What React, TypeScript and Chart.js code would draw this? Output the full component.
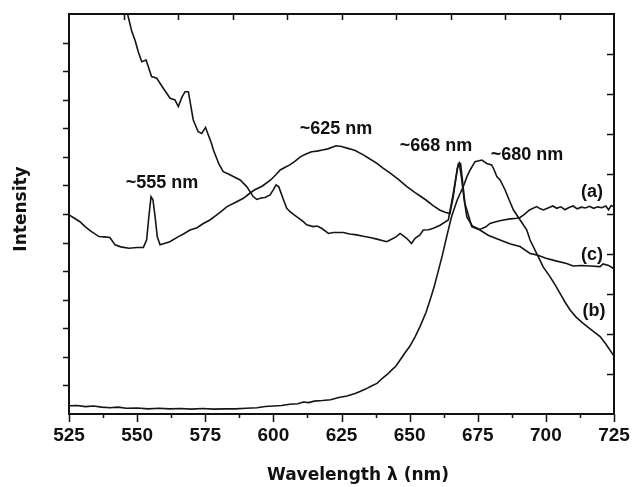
import React, { useEffect, useRef } from "react";
import { Chart, registerables } from "chart.js";

Chart.register(...registerables);

// ---- data (wavelength in nm, intensity in arbitrary units) ----
const aWavelength = [525, 527, 529, 531, 533, 536, 538, 540, 541.9, 544, 547, 550, 552.3, 553.5, 554.3, 555.1, 555.8, 556.6, 557.4, 558.4, 560, 562, 565, 567, 569.4, 572, 574, 576.7, 579, 581, 583, 586, 589, 591, 593, 596, 599, 601, 602.5, 604, 606, 608, 610, 612, 614, 616, 618, 620, 623, 625, 628, 630, 633, 635, 638, 640, 643, 646, 649, 652, 654, 656, 658.5, 661, 663, 664.8, 666, 667.5, 668.2, 669, 670, 671, 673, 675.8, 678, 679.5, 682, 684.4, 687, 689.3, 690.5, 692, 694, 696.6, 698, 699.1, 701, 702.5, 704, 705.5, 707, 708.5, 710, 711.5, 713, 714.5, 716, 717.5, 719, 720.5, 722, 723, 724, 725];
const aIntensity = [6.97, 6.85, 6.73, 6.55, 6.4, 6.21, 6.2, 6.18, 5.92, 5.85, 5.8, 5.83, 5.83, 6.1, 6.9, 7.61, 7.5, 6.9, 6.2, 5.92, 5.97, 6.03, 6.2, 6.3, 6.44, 6.52, 6.65, 6.79, 6.95, 7.1, 7.26, 7.4, 7.55, 7.7, 7.84, 7.98, 8.19, 8.38, 8.54, 8.62, 8.72, 8.85, 9.01, 9.1, 9.18, 9.2, 9.24, 9.28, 9.39, 9.36, 9.28, 9.22, 9.07, 8.95, 8.77, 8.62, 8.42, 8.2, 7.96, 7.75, 7.62, 7.49, 7.3, 7.14, 7.06, 7.02, 7.6, 8.6, 8.77, 8.3, 7.5, 6.9, 6.58, 6.46, 6.55, 6.67, 6.74, 6.79, 6.83, 6.85, 6.88, 6.98, 7.14, 7.26, 7.18, 7.14, 7.22, 7.28, 7.2, 7.25, 7.15, 7.23, 7.28, 7.18, 7.24, 7.21, 7.27, 7.2, 7.25, 7.22, 7.28, 7.15, 7.3, 7.25];

const bWavelength = [525, 528, 531, 534, 537, 540, 543, 546, 550, 554, 558, 562, 566, 570, 574, 578, 582, 586, 590, 594, 597, 600, 603, 606, 609, 611, 613, 615, 618, 621, 624, 627, 630, 632, 634, 636, 638, 640, 642, 643, 645, 646.5, 648, 650, 652, 653.8, 656, 657.5, 659, 660.5, 662, 663.6, 665.4, 667.5, 669.7, 671, 672.2, 674, 676.5, 678.3, 680.1, 681, 682, 683.2, 685, 686.5, 688.1, 690.5, 693, 694.2, 696.6, 697.2, 699, 701.5, 703.5, 705.2, 707, 708.9, 711, 713.7, 716, 718, 719.9, 722, 724.7, 725];
const bIntensity = [0.29, 0.3, 0.26, 0.28, 0.24, 0.22, 0.24, 0.2, 0.21, 0.18, 0.2, 0.18, 0.19, 0.17, 0.19, 0.17, 0.18, 0.18, 0.2, 0.22, 0.26, 0.28, 0.3, 0.34, 0.36, 0.42, 0.4, 0.45, 0.47, 0.5, 0.58, 0.63, 0.72, 0.8, 0.88, 0.98, 1.07, 1.25, 1.4, 1.5, 1.68, 1.89, 2.1, 2.36, 2.7, 3.06, 3.55, 3.99, 4.45, 5.0, 5.55, 6.21, 6.91, 7.5, 7.96, 8.3, 8.54, 8.83, 8.89, 8.77, 8.72, 8.55, 8.31, 8.19, 7.85, 7.5, 7.14, 6.8, 6.44, 6.09, 5.62, 5.51, 5.15, 4.81, 4.5, 4.22, 3.92, 3.64, 3.4, 3.17, 3.0, 2.85, 2.71, 2.45, 2.07, 2.03];

const cWavelength = [546, 547, 548, 549.2, 550.5, 551.7, 553.3, 555.3, 557.2, 559.6, 562.1, 563.9, 565.1, 566.5, 567.6, 568.8, 570.6, 572.4, 573.7, 575.1, 577.3, 578, 580, 581.6, 583.5, 585.3, 587.8, 590.2, 592.6, 593.9, 595.5, 596.9, 598.8, 600, 601, 602, 603.5, 604.9, 606.1, 608.5, 611, 612.2, 614.7, 616, 617.7, 620.2, 622, 625.7, 628, 630.6, 633, 635.5, 638, 641.6, 643, 645, 646.5, 648.9, 650.7, 652, 653.8, 655, 657, 658.7, 661, 664.2, 666, 667.9, 668.7, 670.3, 672.8, 675.8, 679, 683.2, 687, 690.5, 694.2, 696.6, 700, 704, 707.6, 710, 713, 716.2, 719.9, 721, 723, 724.7, 725];
const cIntensity = [14.2, 13.8, 13.4, 13.09, 12.65, 12.33, 12.39, 11.81, 11.75, 11.4, 11.05, 10.99, 10.76, 11.1, 11.28, 11.28, 10.29, 9.88, 9.82, 10.03, 9.47, 9.24, 8.75, 8.48, 8.4, 8.31, 8.19, 7.96, 7.61, 7.51, 7.56, 7.58, 7.67, 7.85, 8.02, 7.95, 7.55, 7.2, 7.08, 6.91, 6.73, 6.62, 6.56, 6.58, 6.5, 6.32, 6.35, 6.35, 6.3, 6.27, 6.22, 6.18, 6.12, 6.03, 6.1, 6.2, 6.32, 6.15, 5.97, 6.15, 6.27, 6.44, 6.45, 6.5, 6.6, 6.79, 7.72, 8.77, 8.77, 7.37, 6.56, 6.44, 6.25, 6.09, 5.95, 5.86, 5.62, 5.57, 5.45, 5.35, 5.27, 5.18, 5.2, 5.18, 5.16, 5.25, 5.2, 5.1, 5.08];

// ---- axes ----
const xMajorTicks = [525, 550, 575, 600, 625, 650, 675, 700, 725];
const xMinorTicks = [537.5, 562.5, 587.5, 612.5, 637.5, 662.5, 687.5, 712.5];
const xTopTicks = [545, 565, 585, 605, 625, 645, 665, 685, 705];
const yLeftTicks = [1, 2, 3, 4, 5, 6, 7, 8, 9, 10, 11, 12, 13];
const yRightTicks = [1, 2, 3, 4, 5, 6, 7, 8, 9];

const xTitle = "Wavelength λ (nm)";
const yTitle = "Intensity";

// annotation texts with anchor in data coordinates
const noteTexts = ["~555 nm", "~625 nm", "~668 nm", "~680 nm", "(a)", "(c)", "(b)"];
const noteX = [559.1, 623.0, 659.7, 693.1, 716.9, 716.9, 717.7];
const noteY = [8.09, 9.98, 9.38, 9.07, 7.77, 5.57, 3.61];

const toPoints = (xs: number[], ys: number[]) => xs.map((x, i) => ({ x, y: ys[i] }));

const framePlugin = {
  id: "framePlugin",
  afterDraw(chart: any) {
    const ctx = chart.ctx;
    const { left, right, top, bottom } = chart.chartArea;
    const xs = chart.scales.x;
    const ys = chart.scales.y;
    const ys2 = chart.scales.y2;
    ctx.save();
    ctx.strokeStyle = "#111";
    ctx.fillStyle = "#111";
    ctx.lineWidth = 2;
    ctx.strokeRect(left, top, right - left, bottom - top);
    ctx.lineWidth = 1.5;
    ctx.beginPath();
    xMajorTicks.forEach((v) => {
      const px = Math.round(xs.getPixelForValue(v)) + 0.5;
      ctx.moveTo(px, bottom);
      ctx.lineTo(px, bottom + 8);
    });
    xMinorTicks.forEach((v) => {
      const px = Math.round(xs.getPixelForValue(v)) + 0.5;
      ctx.moveTo(px, bottom);
      ctx.lineTo(px, bottom + 4);
    });
    xTopTicks.forEach((v) => {
      const px = Math.round(xs.getPixelForValue(v)) + 0.5;
      ctx.moveTo(px, top);
      ctx.lineTo(px, top + 6);
    });
    yLeftTicks.forEach((v) => {
      const py = Math.round(ys.getPixelForValue(v)) + 0.5;
      ctx.moveTo(left, py);
      ctx.lineTo(left - 6, py);
    });
    yRightTicks.forEach((v) => {
      const py = Math.round(ys2.getPixelForValue(v)) + 0.5;
      ctx.moveTo(right, py);
      ctx.lineTo(right - 7, py);
    });
    ctx.stroke();

    // tick labels
    ctx.font = "bold 19px 'Liberation Sans', Arial, sans-serif";
    ctx.textAlign = "center";
    ctx.textBaseline = "middle";
    xMajorTicks.forEach((v) => {
      ctx.fillText(String(v), xs.getPixelForValue(v), bottom + 22);
    });

    // titles
    ctx.font = "bold 17px 'DejaVu Sans', sans-serif";
    ctx.fillText(xTitle, 358, 476);
    ctx.save();
    ctx.translate(22, 209);
    ctx.rotate(-Math.PI / 2);
    ctx.fillText(yTitle, 0, 0);
    ctx.restore();

    // annotations
    ctx.font = "bold 18px 'Liberation Sans', Arial, sans-serif";
    noteTexts.forEach((t, i) => {
      ctx.fillText(t, xs.getPixelForValue(noteX[i]), ys.getPixelForValue(noteY[i]));
    });
    ctx.restore();
  },
};

export default function App() {
  const ref = useRef<HTMLCanvasElement | null>(null);
  useEffect(() => {
    if (!ref.current) return;
    const line = { borderColor: "#151515", borderWidth: 1.6, pointRadius: 0, tension: 0, fill: false };
    const chart = new Chart(ref.current, {
      type: "line",
      data: {
        datasets: [
          { label: "(a)", data: toPoints(aWavelength, aIntensity), ...line },
          { label: "(b)", data: toPoints(bWavelength, bIntensity), ...line },
          { label: "(c)", data: toPoints(cWavelength, cIntensity), ...line },
        ],
      },
      options: {
        animation: false,
        responsive: false,
        events: [],
        layout: { padding: { left: 69, right: 18, top: 14, bottom: 73 } },
        plugins: { legend: { display: false }, tooltip: { enabled: false }, title: { display: false } },
        scales: {
          x: { type: "linear", min: 525, max: 725, display: false },
          y: { type: "linear", min: 0, max: 14, display: false },
          y2: { type: "linear", min: 0, max: 10, display: false, position: "right" },
        },
      },
      plugins: [framePlugin],
    });
    return () => chart.destroy();
  }, []);
  return (
    <div style={{ position: "absolute", left: 0, top: 0, width: 632, height: 487, background: "#fff" }}>
      <canvas ref={ref} width={632} height={487} style={{ display: "block" }} />
    </div>
  );
}
